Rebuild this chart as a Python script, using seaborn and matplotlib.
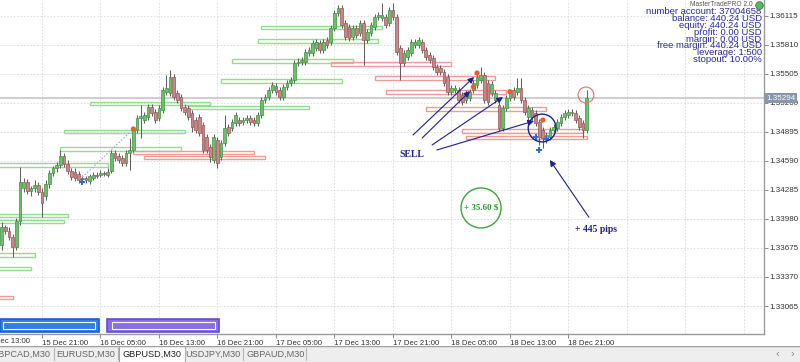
import numpy as np
import pandas as pd
import matplotlib
matplotlib.use("Agg")
import matplotlib.pyplot as plt
import matplotlib.transforms as mtransforms
from matplotlib.patches import Rectangle
import seaborn as sns

# ---------------- data (GBPUSD, M30) ----------------
# bar 0 = 15 Dec 13:00 ; first visible candle is bar 5
first_bar = 5
opens = [
    1.3371, 1.3389, 1.3385, 1.3379, 1.3369, 1.3396, 1.3431, 1.3437, 1.3427, 1.3430,
    1.3434, 1.3426, 1.3422, 1.3435, 1.3446, 1.3451, 1.3455, 1.3464, 1.3456, 1.3448,
    1.3447, 1.3445, 1.3441, 1.3441, 1.3438, 1.3441, 1.3444, 1.3444, 1.3446, 1.3444,
    1.3448, 1.3467, 1.3464, 1.3462, 1.3457, 1.3467, 1.3470, 1.3491, 1.3504, 1.3502,
    1.3505, 1.3516, 1.3510, 1.3504, 1.3512, 1.3531, 1.3530, 1.3547, 1.3530, 1.3526,
    1.3516, 1.3515, 1.3509, 1.3502, 1.3505, 1.3497, 1.3484, 1.3474, 1.3460, 1.3481,
    1.3463, 1.3478, 1.3495, 1.3494, 1.3499, 1.3502, 1.3500, 1.3502, 1.3504, 1.3502,
    1.3499, 1.3507, 1.3523, 1.3526, 1.3533, 1.3538, 1.3533, 1.3526, 1.3537, 1.3541,
    1.3544, 1.3562, 1.3563, 1.3563, 1.3572, 1.3572, 1.3578, 1.3583, 1.3575, 1.3586,
    1.3584, 1.3599, 1.3614, 1.3620, 1.3604, 1.3600, 1.3589, 1.3599, 1.3593, 1.3604,
    1.3586, 1.3593, 1.3600, 1.3610, 1.3609, 1.3610, 1.3604, 1.3617, 1.3610, 1.3578,
    1.3562, 1.3568, 1.3572, 1.3581, 1.3581, 1.3584, 1.3575, 1.3570, 1.3567, 1.3558,
    1.3557, 1.3552, 1.3547, 1.3531, 1.3533, 1.3533, 1.3528, 1.3523, 1.3525, 1.3533,
    1.3539, 1.3544, 1.3549, 1.3541, 1.3530, 1.3523, 1.3518, 1.3494, 1.3515, 1.3525,
    1.3533, 1.3531, 1.3536, 1.3523, 1.3505, 1.3512, 1.3509, 1.3500, 1.3491, 1.3481,
    1.3484, 1.3491, 1.3494, 1.3499, 1.3505, 1.3507, 1.3510, 1.3509, 1.3504, 1.3499,
    1.3491]
closes = [
    1.3389, 1.3385, 1.3379, 1.3368, 1.3396, 1.3437, 1.3437, 1.3427, 1.3431, 1.3434,
    1.3426, 1.3415, 1.3435, 1.3446, 1.3451, 1.3455, 1.3464, 1.3456, 1.3448, 1.3442,
    1.3441, 1.3439, 1.3440, 1.3439, 1.3443, 1.3444, 1.3443, 1.3446, 1.3445, 1.3447,
    1.3467, 1.3462, 1.3460, 1.3457, 1.3467, 1.3470, 1.3491, 1.3504, 1.3506, 1.3507,
    1.3516, 1.3509, 1.3502, 1.3515, 1.3533, 1.3536, 1.3547, 1.3526, 1.3523, 1.3515,
    1.3510, 1.3505, 1.3495, 1.3491, 1.3488, 1.3470, 1.3470, 1.3463, 1.3484, 1.3457,
    1.3478, 1.3494, 1.3488, 1.3500, 1.3507, 1.3499, 1.3502, 1.3504, 1.3500, 1.3499,
    1.3507, 1.3523, 1.3526, 1.3533, 1.3539, 1.3531, 1.3526, 1.3537, 1.3541, 1.3544,
    1.3562, 1.3563, 1.3565, 1.3573, 1.3575, 1.3583, 1.3584, 1.3575, 1.3584, 1.3581,
    1.3599, 1.3614, 1.3620, 1.3602, 1.3589, 1.3588, 1.3599, 1.3591, 1.3604, 1.3586,
    1.3594, 1.3602, 1.3610, 1.3612, 1.3612, 1.3602, 1.3617, 1.3610, 1.3573, 1.3562,
    1.3572, 1.3575, 1.3584, 1.3584, 1.3586, 1.3575, 1.3568, 1.3565, 1.3558, 1.3552,
    1.3552, 1.3541, 1.3531, 1.3536, 1.3536, 1.3523, 1.3521, 1.3530, 1.3531, 1.3541,
    1.3547, 1.3549, 1.3523, 1.3521, 1.3540, 1.3530, 1.3494, 1.3515, 1.3525, 1.3530,
    1.3526, 1.3536, 1.3523, 1.3510, 1.3515, 1.3505, 1.3499, 1.3484, 1.3483, 1.3486,
    1.3491, 1.3495, 1.3500, 1.3505, 1.3509, 1.3510, 1.3509, 1.3502, 1.3495, 1.3491,
    1.3525]
highs = [
    1.3395, 1.3392, 1.3389, 1.3382, 1.3399, 1.3453, 1.3441, 1.3440, 1.3433, 1.3439,
    1.3437, 1.3431, 1.3439, 1.3449, 1.3454, 1.3458, 1.3470, 1.3467, 1.3460, 1.3452,
    1.3451, 1.3448, 1.3444, 1.3443, 1.3445, 1.3447, 1.3447, 1.3449, 1.3448, 1.3451,
    1.3470, 1.3470, 1.3467, 1.3465, 1.3470, 1.3483, 1.3495, 1.3507, 1.3518, 1.3510,
    1.3519, 1.3519, 1.3514, 1.3518, 1.3537, 1.3549, 1.3554, 1.3550, 1.3533, 1.3529,
    1.3519, 1.3518, 1.3512, 1.3505, 1.3508, 1.3500, 1.3487, 1.3477, 1.3487, 1.3484,
    1.3481, 1.3507, 1.3498, 1.3503, 1.3510, 1.3505, 1.3505, 1.3507, 1.3507, 1.3505,
    1.3510, 1.3526, 1.3529, 1.3537, 1.3542, 1.3541, 1.3537, 1.3540, 1.3544, 1.3547,
    1.3565, 1.3567, 1.3568, 1.3577, 1.3579, 1.3586, 1.3587, 1.3586, 1.3587, 1.3589,
    1.3602, 1.3617, 1.3623, 1.3623, 1.3607, 1.3603, 1.3602, 1.3602, 1.3607, 1.3607,
    1.3598, 1.3605, 1.3613, 1.3615, 1.3625, 1.3613, 1.3621, 1.3625, 1.3613, 1.3581,
    1.3575, 1.3579, 1.3587, 1.3587, 1.3589, 1.3587, 1.3579, 1.3573, 1.3570, 1.3561,
    1.3560, 1.3556, 1.3550, 1.3539, 1.3539, 1.3537, 1.3531, 1.3533, 1.3535, 1.3544,
    1.3550, 1.3558, 1.3552, 1.3544, 1.3543, 1.3533, 1.3521, 1.3518, 1.3528, 1.3533,
    1.3537, 1.3546, 1.3546, 1.3526, 1.3518, 1.3516, 1.3512, 1.3503, 1.3495, 1.3489,
    1.3495, 1.3498, 1.3503, 1.3508, 1.3512, 1.3514, 1.3514, 1.3512, 1.3507, 1.3502,
    1.3533]
lows = [
    1.3365, 1.3382, 1.3376, 1.3358, 1.3365, 1.3392, 1.3426, 1.3424, 1.3422, 1.3426,
    1.3423, 1.3400, 1.3418, 1.3431, 1.3443, 1.3447, 1.3452, 1.3453, 1.3445, 1.3439,
    1.3438, 1.3436, 1.3436, 1.3436, 1.3435, 1.3439, 1.3441, 1.3442, 1.3443, 1.3442,
    1.3446, 1.3459, 1.3457, 1.3454, 1.3454, 1.3449, 1.3468, 1.3488, 1.3483, 1.3499,
    1.3502, 1.3506, 1.3499, 1.3501, 1.3509, 1.3528, 1.3527, 1.3523, 1.3520, 1.3511,
    1.3507, 1.3502, 1.3489, 1.3488, 1.3485, 1.3467, 1.3467, 1.3458, 1.3457, 1.3452,
    1.3460, 1.3475, 1.3485, 1.3490, 1.3496, 1.3496, 1.3497, 1.3499, 1.3497, 1.3496,
    1.3496, 1.3504, 1.3520, 1.3523, 1.3530, 1.3528, 1.3523, 1.3523, 1.3533, 1.3538,
    1.3541, 1.3559, 1.3560, 1.3560, 1.3569, 1.3569, 1.3574, 1.3572, 1.3572, 1.3578,
    1.3581, 1.3595, 1.3611, 1.3599, 1.3586, 1.3585, 1.3586, 1.3588, 1.3590, 1.3560,
    1.3583, 1.3590, 1.3596, 1.3607, 1.3606, 1.3599, 1.3601, 1.3607, 1.3570, 1.3544,
    1.3559, 1.3565, 1.3569, 1.3578, 1.3578, 1.3572, 1.3565, 1.3562, 1.3554, 1.3549,
    1.3549, 1.3538, 1.3528, 1.3528, 1.3530, 1.3520, 1.3518, 1.3520, 1.3522, 1.3530,
    1.3536, 1.3541, 1.3520, 1.3518, 1.3527, 1.3520, 1.3490, 1.3490, 1.3511, 1.3522,
    1.3523, 1.3528, 1.3520, 1.3507, 1.3502, 1.3502, 1.3496, 1.3476, 1.3473, 1.3478,
    1.3481, 1.3488, 1.3490, 1.3496, 1.3502, 1.3504, 1.3506, 1.3499, 1.3491, 1.3483,
    1.3488]

time_labels = ["15 Dec 13:00", "15 Dec 21:00", "16 Dec 05:00", "16 Dec 13:00",
               "16 Dec 21:00", "17 Dec 05:00", "17 Dec 13:00", "17 Dec 21:00",
               "18 Dec 05:00", "18 Dec 13:00", "18 Dec 21:00"]
bars_per_label = 16
price_ticks = [1.36115, 1.35810, 1.35505, 1.35200, 1.34895, 1.34590,
               1.34285, 1.33980, 1.33675, 1.33370, 1.33065]
bid_label = "1.35294"

green_zone_start = [76, 75, 68, 65, 29, 56, 22, 21, 1, -10, -11, -19, -20]
green_zone_end = [109, 108, 101, 98, 62, 89, 55, 54, 34, 23, 22, 14, 13]
green_zone_price = [1.35991, 1.35849, 1.35639, 1.35429, 1.35193, 1.35151, 1.34898,
                    1.34715, 1.34547, 1.34016, 1.33953, 1.33601, 1.33459]
red_zone_start = [-25, 41, 44, 95, 107, 110, 121, 131, 132]
red_zone_end = [8, 74, 77, 128, 140, 143, 154, 164, 165]
red_zone_price = [1.33154, 1.34678, 1.34625, 1.35608, 1.35461, 1.35313, 1.35135,
                  1.34904, 1.34835]

sell_bar = [41, 135, 134, 144, 153]
sell_price = [1.34925, 1.35513, 1.35366, 1.35317, 1.35019]
buy_bar = [27, 151, 152, 154]
buy_price = [1.34368, 1.34844, 1.34704, 1.34817]

account_lines = ["number account: 37004658", "balance: 440.24 USD", "equity: 440.24 USD",
                 "profit: 0.00 USD", "margin: 0.00 USD", "free margin: 440.24 USD",
                 "leverage: 1:500", "stopout: 10.00%"]
tabs = ["GBPCAD,M30", "EURUSD,M30", "GBPUSD,M30", "USDJPY,M30", "GBPAUD,M30"]
active_tab = "GBPUSD,M30"

# ---------------- style ----------------
sns.set_theme(style="white")
plt.rcParams['font.family'] = ['Liberation Sans', 'DejaVu Sans']

W, H = 800, 362
fig = plt.figure(figsize=(W / 100, H / 100), dpi=100)
fig.patch.set_facecolor("white")
ax = fig.add_axes([0, 28 / H, 764 / W, 334 / H])
ax.set_facecolor("white")

df = pd.DataFrame({"bar": np.arange(first_bar, first_bar + len(opens)),
                   "open": opens, "high": highs, "low": lows, "close": closes})
df["up"] = df["close"] >= df["open"]

ax.set_xlim(4.51, 213.5)
ax.set_ylim(1.32771, 1.36280)

# grid
grid_kw = dict(color="#d9d9d9", lw=0.6, ls=(0, (2, 2)), zorder=0)
for k in range(bars_per_label, 214, bars_per_label):
    ax.axvline(k, **grid_kw)
for p in price_ticks:
    ax.axhline(p, **grid_kw)

# zones
zh = 0.00036
for s, e, p in zip(green_zone_start, green_zone_end, green_zone_price):
    ax.add_patch(Rectangle((s, p - zh / 2), e - s, zh, facecolor="none",
                           edgecolor="#94dc94", lw=1.0, zorder=1))
for s, e, p in zip(red_zone_start, red_zone_end, red_zone_price):
    ax.add_patch(Rectangle((s, p - zh / 2), e - s, zh, facecolor="none",
                           edgecolor="#f29a9a", lw=1.0, zorder=1))

# bid line
ax.axhline(df["close"].iloc[-1], color="#c9c9c9", lw=1.3, zorder=0.5)

# candles
ax.vlines(df["bar"], df["low"], df["high"], color="#606060", lw=0.75, zorder=2)
body_h = (df["close"] - df["open"]).abs().clip(lower=0.00008)
body_b = df[["open", "close"]].min(axis=1)
up = df["up"].values
ax.bar(df["bar"][up], body_h[up], bottom=body_b[up], width=0.74,
       color="#6cc06c", edgecolor="#3f913f", lw=0.5, zorder=3)
ax.bar(df["bar"][~up], body_h[~up], bottom=body_b[~up], width=0.74,
       color="#c68888", edgecolor="#965454", lw=0.5, zorder=3)

# trade line and signals
ax.plot([buy_bar[0], sell_bar[0]], [buy_price[0] + 0.0005, sell_price[0]],
        color="#8ab4e8", lw=0.8, ls=(0, (1.5, 1.5)), zorder=2)
sig = pd.DataFrame({"bar": sell_bar, "price": sell_price})
sns.scatterplot(data=sig, x="bar", y="price", ax=ax, color="#f05a28", s=14,
                edgecolor="none", zorder=5, legend=False)
bsig = pd.DataFrame({"bar": buy_bar, "price": buy_price})
sns.scatterplot(data=bsig, x="bar", y="price", ax=ax, color="#2a6fd6", s=18,
                marker="P", edgecolor="none", zorder=5, legend=False)
ax.set_xlabel("")
ax.set_ylabel("")

# annotations
navy = "#1f1f8f"
arrow_kw = dict(arrowstyle="-|>", color=navy, lw=0.8, mutation_scale=9,
                shrinkA=0, shrinkB=0)
for tail, head in [((117.5, 1.34862), (134.2, 1.35471)),
                   ((120.0, 1.34830), (133.1, 1.35324)),
                   ((122.7, 1.34757), (142.1, 1.35261)),
                   ((124.0, 1.34704), (150.6, 1.35009))]:
    ax.annotate("", xy=head, xytext=tail, arrowprops=arrow_kw, zorder=6)
ax.text(117.2, 1.34662, "SELL", fontsize=7, fontweight="bold", color=navy,
        family="Liberation Serif", ha="center", va="center", zorder=6)
ax.annotate("", xy=(154.9, 1.34599), xytext=(165.6, 1.33998), arrowprops=arrow_kw,
            zorder=6)
ax.text(167.5, 1.33874, "+ 445 pips", fontsize=7, fontweight="bold", color=navy,
        family="Liberation Serif", ha="center", va="center", zorder=6)
ax.scatter([136.1], [1.34095], s=830, facecolors="none", edgecolors="#3aa63a",
           linewidths=1.0, zorder=6)
ax.text(136.1, 1.34095, "+ 35.60 $", fontsize=6.5, fontweight="bold", color="#2e9a2e",
        family="Liberation Serif", ha="center", va="center", zorder=6)
ax.scatter([152.8], [1.34935], s=400, facecolors="none", edgecolors=navy,
           linewidths=1.0, zorder=6)
ax.scatter([164.8], [1.35282], s=130, facecolors="none", edgecolors="#e07070",
           linewidths=0.8, zorder=6)

# bottom coloured bars
ax.add_patch(Rectangle((0.0, 0.006), 0.1296, 0.039, transform=ax.transAxes,
                       facecolor="#2f80e6", edgecolor="#1c5fc4", lw=1.2, zorder=4,
                       clip_on=False))
ax.add_patch(Rectangle((0.004, 0.016), 0.120, 0.019, transform=ax.transAxes,
                       facecolor="none", edgecolor="white", lw=0.8, zorder=4))
ax.add_patch(Rectangle((0.140, 0.006), 0.147, 0.039, transform=ax.transAxes,
                       facecolor="#8a6ee6", edgecolor="#6a4bc8", lw=1.2, zorder=4))
ax.add_patch(Rectangle((0.146, 0.016), 0.135, 0.019, transform=ax.transAxes,
                       facecolor="none", edgecolor="white", lw=0.8, zorder=4))

# account info
for i, line in enumerate(account_lines):
    ax.text(0.997, 1 - (12 + 6.8 * i) / 334, line, transform=ax.transAxes,
            fontsize=6.8, color="#2a2a9c", ha="right", va="center", zorder=7)
ax.text(0.985, 1 - 4.5 / 334, "MasterTradePRO 2.0", transform=ax.transAxes,
        fontsize=4.8, color="#555555", ha="right", va="center", zorder=7)
ax.scatter([0.9935], [1 - 5 / 334], s=30, color="#5cb85c", edgecolors="#2d6b2d",
           linewidths=0.5, transform=ax.transAxes, zorder=7, clip_on=False)

# axes / ticks
for sp in ["top", "left"]:
    ax.spines[sp].set_visible(False)
for sp in ["right", "bottom"]:
    ax.spines[sp].set_color("#9a9a9a")
    ax.spines[sp].set_linewidth(1.0)
ax.yaxis.tick_right()
ax.set_yticks(price_ticks)
ax.set_yticklabels([f"{p:.5f}" for p in price_ticks])
ax.tick_params(axis="y", right=True, length=3, width=0.6, color="#777", pad=1,
               labelsize=5.8, labelcolor="#333333")
label_bars = [i * bars_per_label for i in range(len(time_labels))]
ax.set_xticks(label_bars[1:])
ax.set_xticklabels(time_labels[1:], ha="left")
ax.tick_params(axis="x", bottom=True, length=3, width=0.6, color="#777", pad=1.5,
               labelsize=5.6, labelcolor="#333333")
ax.text(label_bars[0], -0.012, time_labels[0], transform=mtransforms.blended_transform_factory(
    ax.transData, ax.transAxes), fontsize=5.6, color="#333333", ha="left", va="top",
    clip_on=False)
ax.grid(False)

# bid price label
tr = mtransforms.blended_transform_factory(ax.transAxes, ax.transData)
ax.text(1.003, df["close"].iloc[-1], bid_label, transform=tr, fontsize=5.8,
        color="white", ha="left", va="center", zorder=8,
        bbox=dict(boxstyle="square,pad=0.15", facecolor="#8797ab", edgecolor="none"))

# tab bar
tab_ax = fig.add_axes([0, 0, 1, 16 / H])
tab_ax.set_xlim(0, W)
tab_ax.set_ylim(0, 16)
tab_ax.set_facecolor("#eeeeee")
tab_ax.set_xticks([])
tab_ax.set_yticks([])
for sp in tab_ax.spines.values():
    sp.set_visible(False)
tab_ax.axhline(15.6, color="#a0a0a0", lw=1.0)
tab_centers = [21, 86, 152, 213, 276]
tab_edges = [54, 118, 185, 243, 306]
tab_ax.add_patch(Rectangle((119, 0.5), 66, 15.5, facecolor="white", edgecolor="#a0a0a0",
                           lw=0.8))
for c, e, t in zip(tab_centers, tab_edges, tabs):
    tab_ax.text(c, 8, t, fontsize=6.6, ha="center", va="center",
                color="#222222" if t == active_tab else "#666666")
    tab_ax.plot([e, e], [2, 14], color="#b5b5b5", lw=0.8)
tab_ax.text(777, 8, "‹", fontsize=8, color="#888888", ha="center", va="center")
tab_ax.text(792, 8, "›", fontsize=8, color="#888888", ha="center", va="center")

fig.savefig("out.png", dpi=100, facecolor="white")
